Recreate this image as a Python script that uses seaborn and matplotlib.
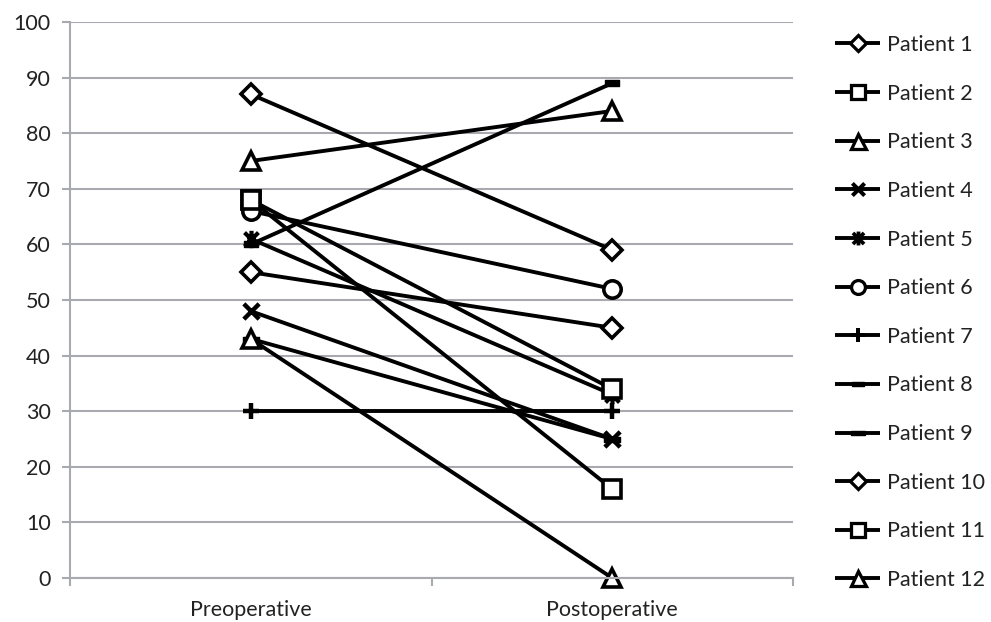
import numpy as np
import pandas as pd
import matplotlib
matplotlib.use("Agg")
import matplotlib.pyplot as plt
import seaborn as sns
from matplotlib.path import Path

# ---- data ----
stages = ["Preoperative", "Postoperative"]
patients = [f"Patient {i}" for i in range(1, 13)]
preop = [87, 68, 75, 48, 61, 66, 30, 60, 43, 55, 68, 43]
postop = [59, 16, 84, 25, 33, 52, 30, 89, 25, 45, 34, 0]
yticks = list(range(0, 101, 10))

rows = []
for p, a, b in zip(patients, preop, postop):
    rows.append((p, stages[0], a))
    rows.append((p, stages[1], b))
df = pd.DataFrame(rows, columns=["patient", "stage", "score"])

# ---- markers ----
M, L, C = Path.MOVETO, Path.LINETO, Path.CLOSEPOLY
x_path = Path([(-1, -1), (1, 1), (-1, 1), (1, -1)], [M, L, M, L])
plus_path = Path([(-1, 0), (1, 0), (0, -1), (0, 1)], [M, L, M, L])
star_path = Path([(-1, -1), (1, 1), (-1, 1), (1, -1), (0, -1.25), (0, 1.25), (-0.6, 0), (0.6, 0)],
                 [M, L, M, L, M, L, M, L])
dash_path = Path([(-1, -0.42), (1, -0.42), (1, 0.42), (-1, 0.42), (-1, -0.42)], [M, L, L, L, C])
bar_path = Path([(-1, -0.3), (1, -0.3), (1, 0.3), (-1, 0.3), (-1, -0.3)], [M, L, L, L, C])

markers = {
    "Patient 1": "D", "Patient 2": "s", "Patient 3": "^", "Patient 4": x_path,
    "Patient 5": star_path, "Patient 6": "o", "Patient 7": plus_path,
    "Patient 8": dash_path, "Patient 9": bar_path, "Patient 10": "D",
    "Patient 11": "s", "Patient 12": "^",
}
# (markersize, face, edge width)
mstyle = {
    "D": (10.5, "white", 2.6), "s": (12.5, "white", 2.6), "^": (13.5, "white", 2.6),
    "o": (12.5, "white", 2.6), "x": (11, "none", 3.2), "star": (12.5, "none", 3.0),
    "plus": (12, "none", 3.2), "dash": (10, "black", 1.0), "bar": (12, "black", 1.0),
}
kind = {
    "Patient 1": "D", "Patient 2": "s", "Patient 3": "^", "Patient 4": "x",
    "Patient 5": "star", "Patient 6": "o", "Patient 7": "plus", "Patient 8": "dash",
    "Patient 9": "bar", "Patient 10": "D", "Patient 11": "s", "Patient 12": "^",
}

sns.set_style("white")
plt.rcParams["font.family"] = ["Lato", "DejaVu Sans"]
FS = 15.5

fig = plt.figure(figsize=(9.91, 6.22), dpi=100)
ax = fig.add_axes([70 / 991, 1 - 578 / 622, (793 - 70) / 991, (578 - 22) / 622])

sns.lineplot(data=df, x="stage", y="score", hue="patient", style="patient",
             hue_order=patients, style_order=patients,
             palette=["black"] * 12, markers=markers, dashes=False,
             sort=False, legend=False, linewidth=2.8, ax=ax)

for line, p in zip(ax.lines, patients):
    ms, fc, mew = mstyle[kind[p]]
    line.set_markersize(ms)
    line.set_markerfacecolor(fc)
    line.set_markeredgecolor("black")
    line.set_markeredgewidth(mew)
    line.set_solid_capstyle("butt")
    line.set_clip_on(False)

grid_c = "#a9a9b0"
ax.set_xlim(-0.5, 1.5)
ax.set_ylim(0, 100)
ax.set_yticks(yticks)
ax.set_yticklabels([str(t) for t in yticks])
ax.set_xticks([0, 1])
ax.set_xticklabels(stages)
ax.set_xticks([-0.5, 0.5, 1.5], minor=True)
ax.yaxis.grid(True, color=grid_c, linewidth=1.5)
ax.set_axisbelow(True)
ax.set_xlabel("")
ax.set_ylabel("")
for s in ["top", "right"]:
    ax.spines[s].set_visible(False)
for s in ["left", "bottom"]:
    ax.spines[s].set_color(grid_c)
    ax.spines[s].set_linewidth(1.5)
ax.tick_params(axis="y", which="major", length=6, width=1.5, color=grid_c,
               labelsize=FS, labelcolor="#222222", pad=8, left=True)
ax.tick_params(axis="x", which="major", length=0, labelsize=FS,
               labelcolor="#222222", pad=16)
ax.tick_params(axis="x", which="minor", length=6, width=1.5, color=grid_c, bottom=True)

leg = fig.legend(ax.lines, patients, loc="upper left",
                 bbox_to_anchor=(835 / 991, 1 - 35 / 622), frameon=False,
                 handlelength=2.1, handletextpad=0.3, labelspacing=1.33,
                 borderaxespad=0, borderpad=0, fontsize=FS)
for h, p in zip(leg.legend_handles, patients):
    ms, fc, mew = mstyle[kind[p]]
    h.set_markersize(ms * 0.8)
    h.set_markeredgewidth(mew * 0.9 if fc != "black" else 1.0)
for t in leg.get_texts():
    t.set_color("#222222")

fig.savefig("out.png", dpi=100)
